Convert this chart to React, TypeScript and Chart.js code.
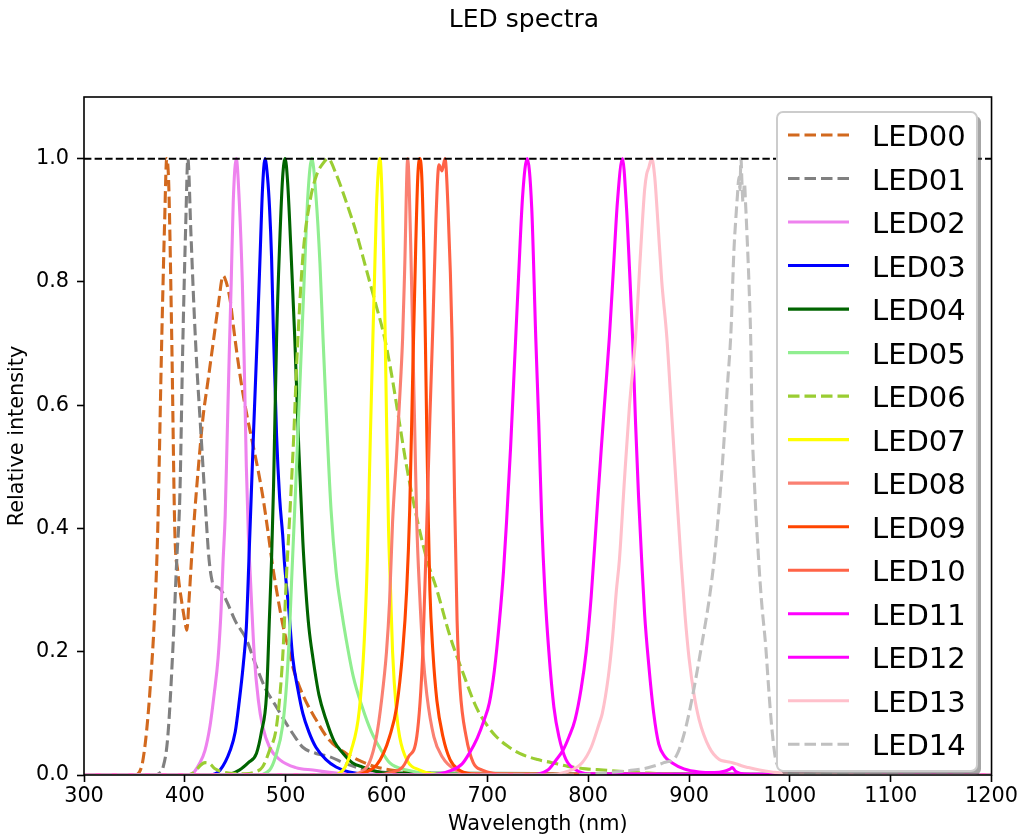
import React, { useEffect, useRef } from 'react';
import { Chart, registerables } from 'chart.js';

Chart.register(...registerables);

const FONT = "'DejaVu Sans', sans-serif";

// ---------- data ----------
const ledNames = ['LED00', 'LED01', 'LED02', 'LED03', 'LED04', 'LED05', 'LED06', 'LED07', 'LED08', 'LED09', 'LED10', 'LED11', 'LED12', 'LED13', 'LED14'];

const led00Wl = [300, 350, 355, 358, 362, 366, 370, 373, 377, 380, 382, 384, 387, 390, 393, 397, 400, 402, 404, 407, 410, 414, 418, 423, 428, 433, 438, 441, 445, 448, 452, 457, 462, 467, 472, 477, 482, 487, 492, 497, 502, 508, 517, 530, 543, 560, 575, 590, 610, 640, 700, 1200];
const led00Val = [0, 0, 0.005, 0.02, 0.07, 0.15, 0.26, 0.39, 0.70, 0.90, 1.0, 0.96, 0.71, 0.40, 0.33, 0.28, 0.25, 0.235, 0.28, 0.36, 0.43, 0.51, 0.58, 0.64, 0.70, 0.76, 0.81, 0.80, 0.77, 0.73, 0.68, 0.625, 0.58, 0.54, 0.50, 0.455, 0.40, 0.34, 0.29, 0.245, 0.21, 0.17, 0.13, 0.09, 0.057, 0.035, 0.022, 0.013, 0.007, 0.003, 0, 0];

const led01Wl = [300, 370, 375, 378, 383, 388, 392, 395, 398, 401, 403, 406, 409, 412, 415, 418, 421, 424, 428, 432, 436, 442, 450, 461, 470, 480, 491, 500, 510, 517, 530, 543, 560, 576, 600, 650, 1200];
const led01Val = [0, 0, 0.003, 0.01, 0.06, 0.2, 0.35, 0.45, 0.70, 0.90, 1.0, 0.88, 0.76, 0.66, 0.58, 0.50, 0.42, 0.35, 0.31, 0.305, 0.30, 0.28, 0.25, 0.22, 0.18, 0.14, 0.11, 0.085, 0.06, 0.045, 0.035, 0.03, 0.018, 0.01, 0.004, 0, 0];

const led02Wl = [300, 405, 415, 420, 425, 429, 433, 436, 438, 440, 442, 444, 446, 448, 451, 454, 457, 459, 461, 463, 465, 469, 473, 477, 484, 494, 510, 527, 560, 1200];
const led02Val = [0, 0, 0.02, 0.04, 0.08, 0.13, 0.19, 0.27, 0.35, 0.42, 0.55, 0.68, 0.80, 0.93, 1.0, 0.93, 0.80, 0.66, 0.50, 0.39, 0.32, 0.19, 0.12, 0.08, 0.045, 0.025, 0.012, 0.008, 0.002, 0];

const led03Wl = [300, 425, 435, 445, 450, 454, 458, 461, 464, 468, 472, 475, 477, 479.5, 482, 484, 486, 488, 491, 494, 497, 499, 503, 507, 512, 517, 523, 530, 540, 550, 563, 600, 1200];
const led03Val = [0, 0, 0.008, 0.04, 0.07, 0.12, 0.18, 0.24, 0.37, 0.55, 0.72, 0.86, 0.95, 1.0, 0.97, 0.92, 0.84, 0.71, 0.55, 0.45, 0.39, 0.34, 0.27, 0.19, 0.14, 0.10, 0.07, 0.045, 0.025, 0.013, 0.005, 0, 0];

const led04Wl = [300, 440, 454, 463, 471, 476, 481, 484, 486, 488, 491, 494, 497, 499.5, 502, 505, 509, 513, 517, 520, 523, 527, 533, 540, 548, 557, 566, 576, 600, 1200];
const led04Val = [0, 0, 0.008, 0.02, 0.035, 0.07, 0.13, 0.26, 0.35, 0.47, 0.71, 0.86, 0.97, 1.0, 0.96, 0.86, 0.71, 0.53, 0.38, 0.30, 0.24, 0.19, 0.13, 0.09, 0.055, 0.035, 0.02, 0.013, 0.003, 0];

const led05Wl = [300, 470, 484, 490, 497, 501, 504, 506, 510, 514, 518, 522, 526, 530, 534, 537, 541, 545, 550, 555, 560, 567, 576, 585, 593, 603, 620, 650, 1200];
const led05Val = [0, 0, 0.008, 0.03, 0.08, 0.15, 0.24, 0.32, 0.47, 0.63, 0.79, 0.94, 1.0, 0.94, 0.83, 0.71, 0.56, 0.43, 0.33, 0.27, 0.22, 0.16, 0.11, 0.07, 0.045, 0.02, 0.008, 0.002, 0];

const led06Wl = [300, 400, 410, 415, 420, 425, 430, 440, 460, 470, 477, 484, 491, 497, 501, 504, 508, 511, 517, 524, 531, 536, 542, 550, 560, 570, 580, 590, 598, 605, 612, 620, 631, 640, 650, 663, 676, 689, 700, 709, 720, 732, 750, 764, 780, 798, 815, 831, 860, 900, 1200];
const led06Val = [0, 0, 0.005, 0.015, 0.02, 0.018, 0.01, 0.004, 0.002, 0.005, 0.013, 0.04, 0.08, 0.19, 0.33, 0.42, 0.55, 0.67, 0.84, 0.93, 0.975, 0.99, 1.0, 0.975, 0.93, 0.88, 0.82, 0.76, 0.71, 0.65, 0.58, 0.50, 0.41, 0.35, 0.30, 0.225, 0.165, 0.11, 0.08, 0.062, 0.047, 0.035, 0.025, 0.02, 0.014, 0.01, 0.008, 0.006, 0.003, 0.001, 0];

const led07Wl = [300, 545, 557, 565, 573, 578, 581, 584, 586.5, 588, 590, 593.5, 596, 598, 600, 602, 604, 606, 610, 613, 620, 633, 660, 1200];
const led07Val = [0, 0, 0.008, 0.04, 0.105, 0.22, 0.35, 0.55, 0.71, 0.80, 0.92, 1.0, 0.92, 0.78, 0.58, 0.40, 0.30, 0.20, 0.10, 0.062, 0.025, 0.008, 0, 0];

const led08Wl = [300, 560, 575, 583, 590, 595, 600, 603, 606, 610, 614, 616, 618, 621, 624, 626, 628, 630, 633, 636, 640, 647, 655, 669, 690, 1200];
const led08Val = [0, 0, 0.005, 0.02, 0.062, 0.12, 0.2, 0.28, 0.41, 0.52, 0.64, 0.71, 0.82, 1.0, 0.86, 0.71, 0.56, 0.41, 0.29, 0.2, 0.13, 0.062, 0.03, 0.008, 0.002, 0];

const led09Wl = [300, 570, 580, 590, 597, 603, 610, 616, 620, 623, 626, 629, 631, 633, 635, 637, 638.5, 640, 641.5, 643, 646, 650, 656, 663, 672, 690, 1200];
const led09Val = [0, 0, 0.005, 0.016, 0.035, 0.062, 0.11, 0.2, 0.3, 0.43, 0.65, 0.86, 0.97, 1.0, 0.97, 0.85, 0.71, 0.55, 0.41, 0.3, 0.2, 0.12, 0.062, 0.025, 0.008, 0.001, 0];

const led10Wl = [300, 590, 605, 616, 622, 630, 636, 640, 643, 646, 649, 652, 655, 658, 661, 665, 667.5, 670, 673, 679, 686, 695, 720, 1200];
const led10Val = [0, 0, 0.004, 0.013, 0.03, 0.062, 0.2, 0.41, 0.58, 0.73, 0.9, 0.99, 0.98, 1.0, 0.92, 0.71, 0.45, 0.25, 0.14, 0.062, 0.02, 0.008, 0.001, 0];

const led11Wl = [300, 640, 665, 675, 682, 690, 697, 702, 707, 712, 716, 719, 723, 727, 731, 735, 739.5, 744, 748, 751, 754, 757, 761, 766, 771, 778, 788, 800, 1200];
const led11Val = [0, 0, 0.008, 0.018, 0.035, 0.06, 0.09, 0.117, 0.17, 0.25, 0.33, 0.41, 0.53, 0.67, 0.81, 0.94, 1.0, 0.92, 0.71, 0.57, 0.41, 0.3, 0.2, 0.11, 0.062, 0.025, 0.008, 0.002, 0];

const led12Wl = [300, 740, 760, 768, 775, 781, 787, 793, 798, 803, 808, 813, 817, 821, 825, 829, 834, 838, 841, 844, 847, 850, 853, 856, 860, 865, 870, 876, 883, 895, 910, 925, 935, 940, 943, 946, 950, 960, 1200];
const led12Val = [0, 0, 0.008, 0.024, 0.04, 0.062, 0.09, 0.14, 0.2, 0.29, 0.41, 0.53, 0.62, 0.71, 0.82, 0.93, 1.0, 0.92, 0.82, 0.71, 0.57, 0.45, 0.35, 0.26, 0.18, 0.1, 0.05, 0.03, 0.02, 0.01, 0.005, 0.004, 0.006, 0.009, 0.012, 0.006, 0.003, 0.001, 0];

const led13Wl = [300, 760, 780, 794, 803, 811, 814, 820, 824, 828, 831, 836, 841, 847, 852, 856, 858, 860, 863, 866, 869, 873, 878, 883, 888, 892, 896, 900, 905, 910, 920, 930, 937, 943, 947, 952, 959, 970, 982, 1000, 1200];
const led13Val = [0, 0, 0.006, 0.02, 0.045, 0.084, 0.1, 0.16, 0.22, 0.30, 0.35, 0.48, 0.6, 0.71, 0.85, 0.95, 0.975, 0.985, 1.0, 0.97, 0.9, 0.8, 0.71, 0.58, 0.45, 0.35, 0.26, 0.19, 0.13, 0.09, 0.045, 0.025, 0.022, 0.02, 0.018, 0.015, 0.012, 0.008, 0.005, 0.002, 0];

const led14Wl = [300, 780, 828, 845, 860, 875, 887, 894, 900, 906, 913, 920, 925, 929, 932, 935, 938, 941.6, 944.5, 946.5, 948, 949.5, 950.5, 951.5, 952.5, 953.5, 955, 956, 957.4, 959.4, 961.4, 962.4, 964.4, 969, 972, 976, 979, 982, 986, 990, 995, 1010, 1200];
const led14Val = [0, 0, 0.005, 0.008, 0.012, 0.02, 0.03, 0.06, 0.1, 0.15, 0.215, 0.285, 0.35, 0.42, 0.48, 0.55, 0.63, 0.72, 0.85, 0.905, 0.94, 0.97, 0.95, 1.0, 0.96, 0.93, 0.96, 0.93, 0.88, 0.80, 0.69, 0.58, 0.49, 0.35, 0.28, 0.21, 0.14, 0.078, 0.024, 0.012, 0.005, 0.001, 0];

const ledWavelengths = [led00Wl, led01Wl, led02Wl, led03Wl, led04Wl, led05Wl, led06Wl, led07Wl, led08Wl, led09Wl, led10Wl, led11Wl, led12Wl, led13Wl, led14Wl];
const ledValues = [led00Val, led01Val, led02Val, led03Val, led04Val, led05Val, led06Val, led07Val, led08Val, led09Val, led10Val, led11Val, led12Val, led13Val, led14Val];

const refWl = [300, 1200];
const refVal = [1, 1];

const xTicks = [300, 400, 500, 600, 700, 800, 900, 1000, 1100, 1200];
const yTicks = [0, 0.2, 0.4, 0.6, 0.8, 1.0];

// ---------- styles ----------
const ledColors = ['#D2691E', '#808080', '#EE82EE', '#0000FF', '#006400', '#90EE90', '#9ACD32', '#FFFF00', '#FA8072', '#FF4500', '#FF6347', '#FF00FF', '#FF00FF', '#FFC0CB', '#C0C0C0'];
const ledDashed = [true, true, false, false, false, false, true, false, false, false, false, false, false, false, true];
const LINE_W = 3.1;
const SERIES_DASH = [11.5, 5];

const framePlugin = {
  id: 'frame',
  afterDatasetsDraw(chart: any) {
    const { ctx, chartArea: a } = chart;
    ctx.save();
    ctx.strokeStyle = '#000';
    ctx.lineWidth = 1.6;
    ctx.setLineDash([]);
    ctx.strokeRect(a.left, a.top, a.right - a.left, a.bottom - a.top);
    ctx.restore();
  },
};

const titlePlugin = {
  id: 'figTitle',
  afterDraw(chart: any) {
    const ctx = chart.ctx;
    ctx.save();
    ctx.font = `25px ${FONT}`;
    ctx.fillStyle = '#000';
    ctx.textAlign = 'center';
    ctx.textBaseline = 'alphabetic';
    ctx.fillText('LED spectra', 524, 27);
    ctx.restore();
  },
};

const legendPlugin = {
  id: 'boxLegend',
  afterDraw(chart: any) {
    const ctx = chart.ctx;
    const L = 777, T = 112, W = 200, H = 659, r = 6;
    ctx.save();
    ctx.setLineDash([]);
    ctx.fillStyle = 'rgba(77,77,77,0.5)';
    ctx.beginPath();
    ctx.roundRect(L + 4, T + 4, W, H, r);
    ctx.fill();
    ctx.fillStyle = '#ffffff';
    ctx.strokeStyle = '#cccccc';
    ctx.lineWidth = 2;
    ctx.beginPath();
    ctx.roundRect(L, T, W, H, r);
    ctx.fill();
    ctx.stroke();
    ctx.font = `29px ${FONT}`;
    ctx.fillStyle = '#000';
    ctx.textAlign = 'left';
    ctx.textBaseline = 'alphabetic';
    ledNames.forEach((name, i) => {
      const y = 135 + i * 43.52;
      ctx.beginPath();
      ctx.strokeStyle = ledColors[i];
      ctx.lineWidth = LINE_W;
      ctx.setLineDash(ledDashed[i] ? SERIES_DASH : []);
      ctx.moveTo(788, y);
      ctx.lineTo(849, y);
      ctx.stroke();
      ctx.setLineDash([]);
      ctx.fillText(name, 872, y + 11);
    });
    ctx.restore();
  },
};

export default function App() {
  const canvasRef = useRef<HTMLCanvasElement | null>(null);

  useEffect(() => {
    if (!canvasRef.current) return;
    const datasets: any[] = ledNames.map((name, i) => ({
      label: name,
      data: ledWavelengths[i].map((w, k) => ({ x: w, y: ledValues[i][k] })),
      borderColor: ledColors[i],
      backgroundColor: ledColors[i],
      borderWidth: LINE_W,
      borderDash: ledDashed[i] ? SERIES_DASH : [],
      pointRadius: 0,
      fill: false,
      cubicInterpolationMode: 'monotone',
      order: 20 - i,
    }));
    datasets.push({
      label: 'ref',
      data: refWl.map((w, k) => ({ x: w, y: refVal[k] })),
      borderColor: '#000',
      borderWidth: 2,
      borderDash: [7.4, 3.2],
      pointRadius: 0,
      fill: false,
      order: 0,
    });

    const tickFont = { family: FONT, size: 20.8 };
    const chart = new Chart(canvasRef.current, {
      type: 'line',
      data: { datasets },
      plugins: [framePlugin, titlePlugin, legendPlugin],
      options: {
        animation: false,
        responsive: false,
        maintainAspectRatio: false,
        layout: { padding: { left: 0, right: 27, top: 97, bottom: 0 } },
        plugins: {
          legend: { display: false },
          title: { display: false },
          tooltip: { enabled: false },
        },
        scales: {
          x: {
            type: 'linear',
            min: 300,
            max: 1200,
            afterBuildTicks: (axis: any) => {
              axis.ticks = xTicks.map((v) => ({ value: v }));
            },
            afterFit: (s: any) => {
              s.height = 64;
            },
            ticks: {
              font: tickFont,
              color: '#000',
              padding: 2,
              maxRotation: 0,
              autoSkip: false,
              callback: (v: any) => String(v),
            },
            grid: {
              display: true,
              drawOnChartArea: false,
              drawTicks: true,
              tickLength: 7,
              tickWidth: 1.6,
              tickColor: '#000',
            },
            border: { display: false },
            title: {
              display: true,
              text: 'Wavelength (nm)',
              font: tickFont,
              color: '#000',
              padding: { top: 0, bottom: 1.5 },
            },
          },
          y: {
            type: 'linear',
            min: 0,
            max: 1.1,
            afterBuildTicks: (axis: any) => {
              axis.ticks = yTicks.map((v) => ({ value: v }));
            },
            afterFit: (s: any) => {
              s.width = 84;
            },
            ticks: {
              font: tickFont,
              color: '#000',
              padding: 8,
              callback: (v: any) => Number(v).toFixed(1),
            },
            grid: {
              display: true,
              drawOnChartArea: false,
              drawTicks: true,
              tickLength: 7,
              tickWidth: 1.6,
              tickColor: '#000',
            },
            border: { display: false },
            title: {
              display: true,
              text: 'Relative intensity',
              font: tickFont,
              color: '#000',
              padding: { top: 5.5, bottom: 0 },
            },
          },
        },
      } as any,
    });
    return () => chart.destroy();
  }, []);

  return (
    <div style={{ position: 'absolute', left: 0, top: 0, width: 1020, height: 839, background: '#fff' }}>
      <canvas ref={canvasRef} width={1020} height={839} style={{ width: 1020, height: 839, display: 'block' }} />
    </div>
  );
}
